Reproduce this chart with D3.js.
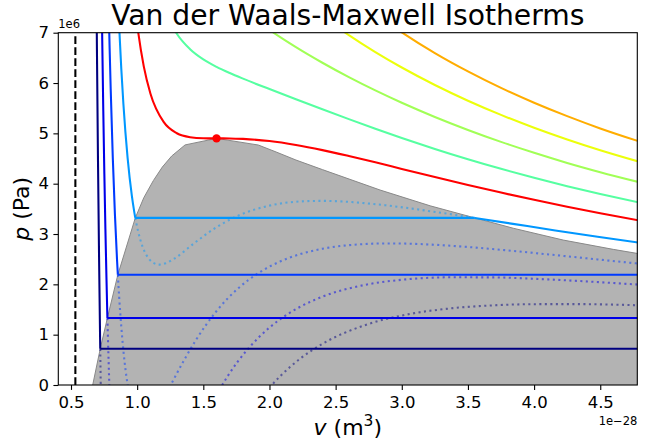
<!doctype html>
<html lang="en">
<head>
  <meta charset="utf-8">
  <title>Van der Waals-Maxwell Isotherms</title>
  <style>
    body { margin: 0; background: #fff; }
    text { font-family: "DejaVu Sans", sans-serif; }
  </style>
</head>
<body>
<div id="mychart"></div>
<script src="https://d3js.org/d3.v7.min.js"></script>
<script>
// v in 1e-28 m^3, p in 1e6 Pa
var vTicks = [0.5, 1.0, 1.5, 2.0, 2.5, 3.0, 3.5, 4.0, 4.5];
var pTicks = [0, 1, 2, 3, 4, 5, 6, 7];
var bVolume = 0.533;
var critPoint = [1.6, 4.9];

// subcritical isotherms: liquid branch, Maxwell plateau, gas branch, van der Waals loop
var liquid066 = [[0.688,9.2],[0.696,6.66],[0.704,4.46],[0.712,2.56],[0.72,0.908],[0.721,0.72]];
var plateau066 = [[0.721,0.72],[4.8,0.72]];
var loop066a = [[0.721,0.72],[0.723,0.31],[0.728,-0.52]];
var loop066b = [[1.92,-0.31],[2.0,-0.053],[2.08,0.172],[2.24,0.539],[2.4,0.817],[2.72,1.188],[3.04,1.401],[3.36,1.52],[3.68,1.581],[4.0,1.606],[4.32,1.607],[4.8,1.583]];

var liquid074 = [[0.728,8.47],[0.736,6.87],[0.744,5.45],[0.752,4.2],[0.76,3.1],[0.768,2.125],[0.775,1.33]];
var plateau074 = [[0.775,1.33],[4.8,1.33]];
var loop074a = [[0.775,1.33],[0.784,0.495],[0.792,-0.19],[0.8,-0.78]];
var loop074b = [[1.6,-0.196],[1.68,0.159],[1.76,0.464],[1.92,0.949],[2.08,1.305],[2.24,1.565],[2.4,1.755],[2.72,1.988],[3.04,2.1],[3.36,2.14],[3.68,2.138],[4.0,2.111],[4.32,2.069],[4.8,1.993]];

var liquid0825 = [[0.776,8.58],[0.784,7.585],[0.792,6.685],[0.8,5.88],[0.816,4.503],[0.832,3.386],[0.848,2.481],[0.854,2.19]];
var plateau0825 = [[0.854,2.19],[4.8,2.19]];
var loop0825 = [[0.854,2.19],[0.864,1.75],[0.88,1.16],[0.896,0.685],[0.912,0.304],[0.928,0.005],[0.96,-0.41],[1.04,-0.75],[1.12,-0.6],[1.216,-0.19],[1.248,-0.03],[1.28,0.131],[1.36,0.519],[1.44,0.876],[1.6,1.47],[1.76,1.912],[1.92,2.23],[2.08,2.454],[2.24,2.606],[2.4,2.707],[2.72,2.801],[2.88,2.813],[3.04,2.809],[3.2,2.793],[3.52,2.738],[3.84,2.664],[4.16,2.581],[4.48,2.495],[4.8,2.409]];

var liquid091 = [[0.848,8.13],[0.864,7.125],[0.88,6.287],[0.896,5.584],[0.928,4.507],[0.96,3.757],[0.976,3.474],[0.984,3.348],[0.986,3.32]];
var plateau091 = [[0.986,3.32],[3.552,3.32]];
var gas091 = [[3.552,3.32],[3.84,3.202],[4.16,3.071],[4.48,2.946],[4.8,2.826]];
var loop091 = [[0.986,3.32],[0.992,3.24],[1.008,3.044],[1.04,2.756],[1.072,2.573],[1.12,2.43],[1.168,2.391],[1.216,2.419],[1.28,2.511],[1.44,2.836],[1.6,3.136],[1.76,3.361],[2.0,3.564],[2.24,3.648],[2.4,3.659],[2.56,3.645],[2.88,3.57],[3.2,3.459],[3.52,3.333],[3.552,3.32]];

// critical and supercritical isotherms
var iso100 = [[0.98,7.62],[1.0,7.168],[1.05,6.331],[1.1,5.793],[1.2,5.227],[1.3,5.002],[1.4,4.923],[1.5,4.902],[1.6,4.9],[1.7,4.899],[1.8,4.89],[2.0,4.847],[2.2,4.769],[2.4,4.667],[2.6,4.549],[2.8,4.424],[3.0,4.294],[3.25,4.133],[3.5,3.975],[3.75,3.823],[4.0,3.679],[4.25,3.542],[4.5,3.412],[4.8,3.267]];
var iso1075 = [[1.2,7.5],[1.3,6.979],[1.4,6.672],[1.5,6.47],[1.6,6.321],[1.7,6.198],[1.8,6.087],[2.0,5.88],[2.2,5.678],[2.4,5.479],[2.6,5.283],[2.8,5.092],[3.0,4.909],[3.25,4.691],[3.5,4.486],[3.75,4.295],[4.0,4.116],[4.25,3.949],[4.5,3.794],[4.8,3.622]];
var iso1155 = [[1.8,7.449],[2.0,7.056],[2.2,6.713],[2.4,6.403],[2.6,6.117],[2.8,5.853],[3.0,5.608],[3.25,5.326],[3.5,5.068],[3.75,4.831],[4.0,4.614],[4.25,4.413],[4.5,4.229],[4.8,4.026]];
var iso1240 = [[2.4,7.326],[2.6,6.952],[2.8,6.614],[3.0,6.308],[3.25,5.961],[3.5,5.649],[3.75,5.367],[4.0,5.111],[4.25,4.878],[4.5,4.664],[4.8,4.431]];
var iso1320 = [[2.8,7.375],[3.0,7.007],[3.25,6.595],[3.5,6.231],[3.75,5.903],[4.0,5.609],[4.25,5.342],[4.5,5.098],[4.8,4.835]];

// coexistence dome
var domeLiquid = [[0.645,-0.25],[0.664,0],[0.721,0.72],[0.775,1.33],[0.854,2.19],[0.986,3.32],[1.05,3.72],[1.122,4.06],[1.19,4.33],[1.261,4.55],[1.362,4.77],[1.6,4.9]];
var domeGas = [[1.916,4.768],[2.05,4.63],[2.2,4.47],[2.4,4.28],[2.836,3.874],[3.215,3.56],[3.552,3.32],[3.842,3.115],[4.22,2.88],[4.598,2.695],[4.8,2.605],[4.9,2.565]];
var domeBase = [[4.9,-0.25]];

var colors = {c066: "#000080", c074: "#0000e9", c0825: "#003aff", c091: "#0097ff",
  crit: "#ff0000", c1075: "#56ffa1", c1155: "#a1ff56", c1240: "#ecff0b", c1320: "#ffad00"};

var width = 654, height = 445;
var plotL = 58.3, plotR = 637.3, plotT = 32.7, plotB = 385;

var svg = d3.select("#mychart").append("svg")
  .attr("width", width)
  .attr("height", height);

var x = d3.scaleLinear().domain([0.404, 4.78]).range([plotL, plotR]);
var y = d3.scaleLinear().domain([0, 7]).range([plotB, plotT]);

svg.append("clipPath").attr("id", "plotclip")
  .append("rect")
  .attr("x", plotL).attr("y", plotT)
  .attr("width", plotR - plotL).attr("height", plotB - plotT);

var plot = svg.append("g").attr("clip-path", "url(#plotclip)");

var smooth = d3.line().x(function(d) { return x(d[0]); }).y(function(d) { return y(d[1]); })
  .curve(d3.curveMonotoneX);
var straight = d3.line().x(function(d) { return x(d[0]); }).y(function(d) { return y(d[1]); });

// dome fill and outline
var dome = domeLiquid.concat(domeGas);
plot.append("path")
  .attr("d", straight(dome.concat(domeBase)) + "Z")
  .attr("fill", "#b3b3b3");
plot.append("path")
  .attr("d", straight(dome))
  .attr("fill", "none")
  .attr("stroke", "#888")
  .attr("stroke-width", 1);

// van der Waals loops (dotted)
var loops = [
  [loop066a, colors.c066], [loop066b, colors.c066],
  [loop074a, colors.c074], [loop074b, colors.c074],
  [loop0825, colors.c0825], [loop091, colors.c091]
];
loops.forEach(function(l) {
  plot.append("path")
    .attr("d", smooth(l[0]))
    .attr("fill", "none")
    .attr("stroke", l[1])
    .attr("stroke-opacity", 0.5)
    .attr("stroke-width", 2.08)
    .attr("stroke-dasharray", "2.08,3.43");
});

// solid isotherms
var curves = [
  [liquid066, colors.c066], [liquid074, colors.c074], [liquid0825, colors.c0825], [liquid091, colors.c091],
  [gas091, colors.c091],
  [iso100, colors.crit], [iso1075, colors.c1075], [iso1155, colors.c1155],
  [iso1240, colors.c1240], [iso1320, colors.c1320]
];
curves.forEach(function(c) {
  plot.append("path")
    .attr("d", smooth(c[0]))
    .attr("fill", "none")
    .attr("stroke", c[1])
    .attr("stroke-width", 2.08);
});
var plateaus = [[plateau066, colors.c066], [plateau074, colors.c074], [plateau0825, colors.c0825], [plateau091, colors.c091]];
plateaus.forEach(function(c) {
  plot.append("path")
    .attr("d", straight(c[0]))
    .attr("fill", "none")
    .attr("stroke", c[1])
    .attr("stroke-width", 2.08);
});

// excluded volume b
plot.append("line")
  .attr("x1", x(bVolume)).attr("x2", x(bVolume))
  .attr("y1", y(0)).attr("y2", y(7))
  .attr("stroke", "#000")
  .attr("stroke-width", 2.08)
  .attr("stroke-dasharray", "7.7,3.3");

plot.append("circle")
  .attr("cx", x(critPoint[0])).attr("cy", y(critPoint[1]))
  .attr("r", 4.2)
  .attr("fill", "#ff0000");

// frame
svg.append("rect")
  .attr("x", plotL).attr("y", plotT)
  .attr("width", plotR - plotL).attr("height", plotB - plotT)
  .attr("fill", "none")
  .attr("stroke", "#000")
  .attr("stroke-width", 1.1);

// axes
var xAxis = svg.append("g")
  .attr("transform", "translate(0," + plotB + ")")
  .call(d3.axisBottom(x).tickValues(vTicks).tickFormat(d3.format(".1f")).tickSize(4.9).tickPadding(6));
var yAxis = svg.append("g")
  .attr("transform", "translate(" + plotL + ",0)")
  .call(d3.axisLeft(y).tickValues(pTicks).tickFormat(d3.format("d")).tickSize(4.9).tickPadding(4.5));
[xAxis, yAxis].forEach(function(a) {
  a.select(".domain").remove();
  a.selectAll(".tick line").attr("stroke", "#000").attr("stroke-width", 1.1);
  a.selectAll(".tick text")
    .attr("fill", "#000")
    .style("font-family", "DejaVu Sans")
    .style("font-size", "16.5px");
});

// texts
svg.append("text")
  .attr("x", (plotL + plotR) / 2).attr("y", 25)
  .attr("text-anchor", "middle")
  .style("font-size", "28.2px")
  .text("Van der Waals-Maxwell Isotherms");

svg.append("text")
  .attr("x", plotL).attr("y", 28)
  .style("font-size", "11.5px")
  .text("1e6");

svg.append("text")
  .attr("x", plotR).attr("y", 425)
  .attr("text-anchor", "end")
  .style("font-size", "11.5px")
  .text("1e\u221228");

var xl = svg.append("text")
  .attr("x", (plotL + plotR) / 2).attr("y", 435)
  .attr("text-anchor", "middle")
  .style("font-size", "22px");
xl.append("tspan").style("font-style", "italic").text("v");
xl.append("tspan").text(" (m");
xl.append("tspan").attr("dy", -9).style("font-size", "15.5px").text("3");
xl.append("tspan").attr("dy", 9).text(")");

var yl = svg.append("text")
  .attr("transform", "translate(29," + ((plotT + plotB) / 2) + ") rotate(-90)")
  .attr("text-anchor", "middle")
  .style("font-size", "22px");
yl.append("tspan").style("font-style", "italic").text("p");
yl.append("tspan").text(" (Pa)");
</script>
</body>
</html>
